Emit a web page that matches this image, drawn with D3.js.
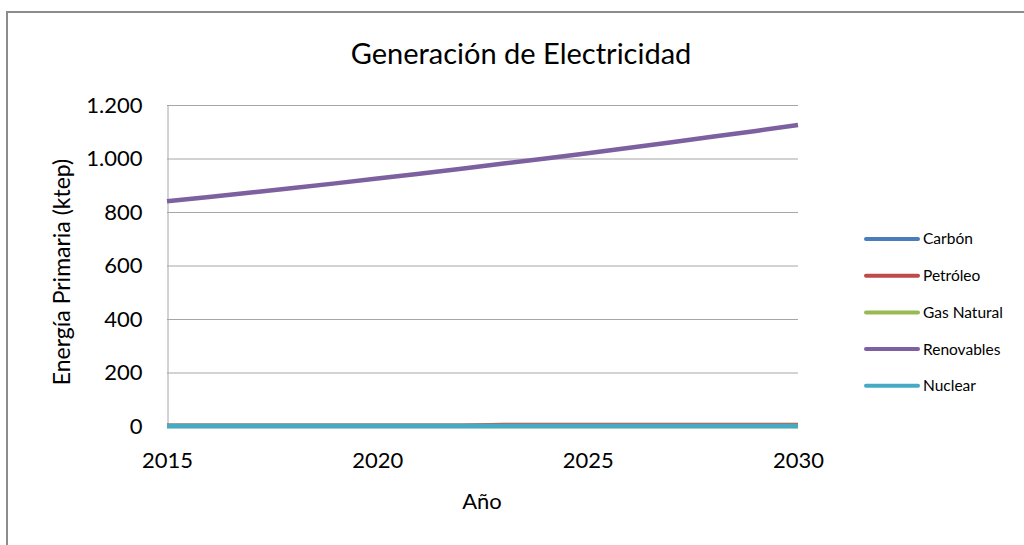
<!DOCTYPE html>
<html>
<head>
<meta charset="utf-8">
<style>
  body { margin: 0; background: #fff; }
  svg text { font-family: Lato, "Open Sans", sans-serif; fill: #000; }
</style>
<script src="https://cdnjs.cloudflare.com/ajax/libs/d3/7.8.5/d3.min.js"></script>
</head>
<body>
<div id="chart"></div>
<script>
// data
const years = [2015, 2016, 2017, 2018, 2019, 2020, 2021, 2022, 2023, 2024, 2025, 2026, 2027, 2028, 2029, 2030];
const carbon     = [0, 0, 0, 0, 0, 0, 0, 0, 0, 0, 0, 0, 0, 0, 0, 0];
const petroleo   = [1, 1, 1, 1, 1, 1, 1, 1, 4, 4, 4, 4, 4, 4, 4, 4];
const gasNatural = [0, 0, 0, 0, 0, 0, 0, 0, 0, 0, 0, 0, 0, 0, 0, 0];
const renovables = [840, 856, 873, 890, 907, 925, 943, 962, 981, 1000, 1020, 1040, 1061, 1082, 1103, 1125];
const nuclear    = [0, 0, 0, 0, 0, 0, 0, 0, 0, 0, 0, 0, 0, 0, 0, 0];
const seriesNames = ["Carbón", "Petróleo", "Gas Natural", "Renovables", "Nuclear"];
const seriesColors = ["#4a7ebb", "#be4b48", "#98b954", "#7d60a0", "#46aac5"];
const yTicks = [0, 200, 400, 600, 800, 1000, 1200];
const xTicks = [2015, 2020, 2025, 2030];

const series = [carbon, petroleo, gasNatural, renovables, nuclear].map((v, i) => ({
  name: seriesNames[i], color: seriesColors[i], values: v
}));

const W = 1024, H = 545;
const svg = d3.select("#chart").append("svg").attr("width", W).attr("height", H);

// outer chart frame
svg.append("rect").attr("x", 7).attr("y", 12).attr("width", W + 10).attr("height", H + 10)
  .attr("fill", "none").attr("stroke", "#8c8c8c").attr("stroke-width", 2);

const x = d3.scaleLinear().domain([2015, 2030]).range([167, 798]);
const y = d3.scaleLinear().domain([0, 1200]).range([426, 105]);

// gridlines
svg.append("g").selectAll("line").data(yTicks.filter(d => d > 0)).enter().append("line")
  .attr("x1", 167).attr("x2", 798)
  .attr("y1", d => y(d) + 0.5).attr("y2", d => y(d) + 0.5)
  .attr("stroke", "#a6a6a6").attr("stroke-width", 1);

// y axis
const yAxis = d3.axisLeft(y).tickValues(yTicks).tickSize(0).tickPadding(25)
  .tickFormat(d => d3.format(",")(d).replace(/,/g, "."));
const gy = svg.append("g").attr("transform", "translate(167.5,0)").call(yAxis);
gy.select(".domain").attr("stroke", "#a6a6a6");
gy.selectAll("text").style("font-size", "22px");

// x axis
const xAxis = d3.axisBottom(x).tickValues(xTicks).tickSize(0).tickPadding(0).tickFormat(d3.format("d"));
const gx = svg.append("g").attr("transform", "translate(0,451)").call(xAxis);
gx.select(".domain").remove();
gx.selectAll("text").style("font-size", "22px").attr("dy", "0.75em");

// lines
const line = d3.line().x((d, i) => x(years[i])).y(d => y(d));
svg.append("g").selectAll("path").data(series).enter().append("path")
  .attr("d", d => line(d.values))
  .attr("fill", "none").attr("stroke", d => d.color)
  .attr("stroke-width", 4.5).attr("stroke-linecap", "butt");

// title and axis titles
svg.append("text").attr("x", 521).attr("y", 64).attr("text-anchor", "middle")
  .style("font-size", "29px").text("Generación de Electricidad");
svg.append("text").attr("transform", "translate(70,272) rotate(-90)").attr("text-anchor", "middle")
  .style("font-size", "23px").text("Energía Primaria (ktep)");
svg.append("text").attr("x", 482).attr("y", 509).attr("text-anchor", "middle")
  .style("font-size", "22px").text("Año");

// legend
const leg = svg.append("g").selectAll("g").data(series).enter().append("g")
  .attr("transform", (d, i) => `translate(866,${239 + i * 36.7})`);
leg.append("line").attr("x1", 0).attr("x2", 52)
  .attr("stroke", d => d.color).attr("stroke-width", 4).attr("stroke-linecap", "round");
leg.append("text").attr("x", 57).attr("dy", "0.35em").style("font-size", "15.5px").text(d => d.name);
</script>
</body>
</html>
